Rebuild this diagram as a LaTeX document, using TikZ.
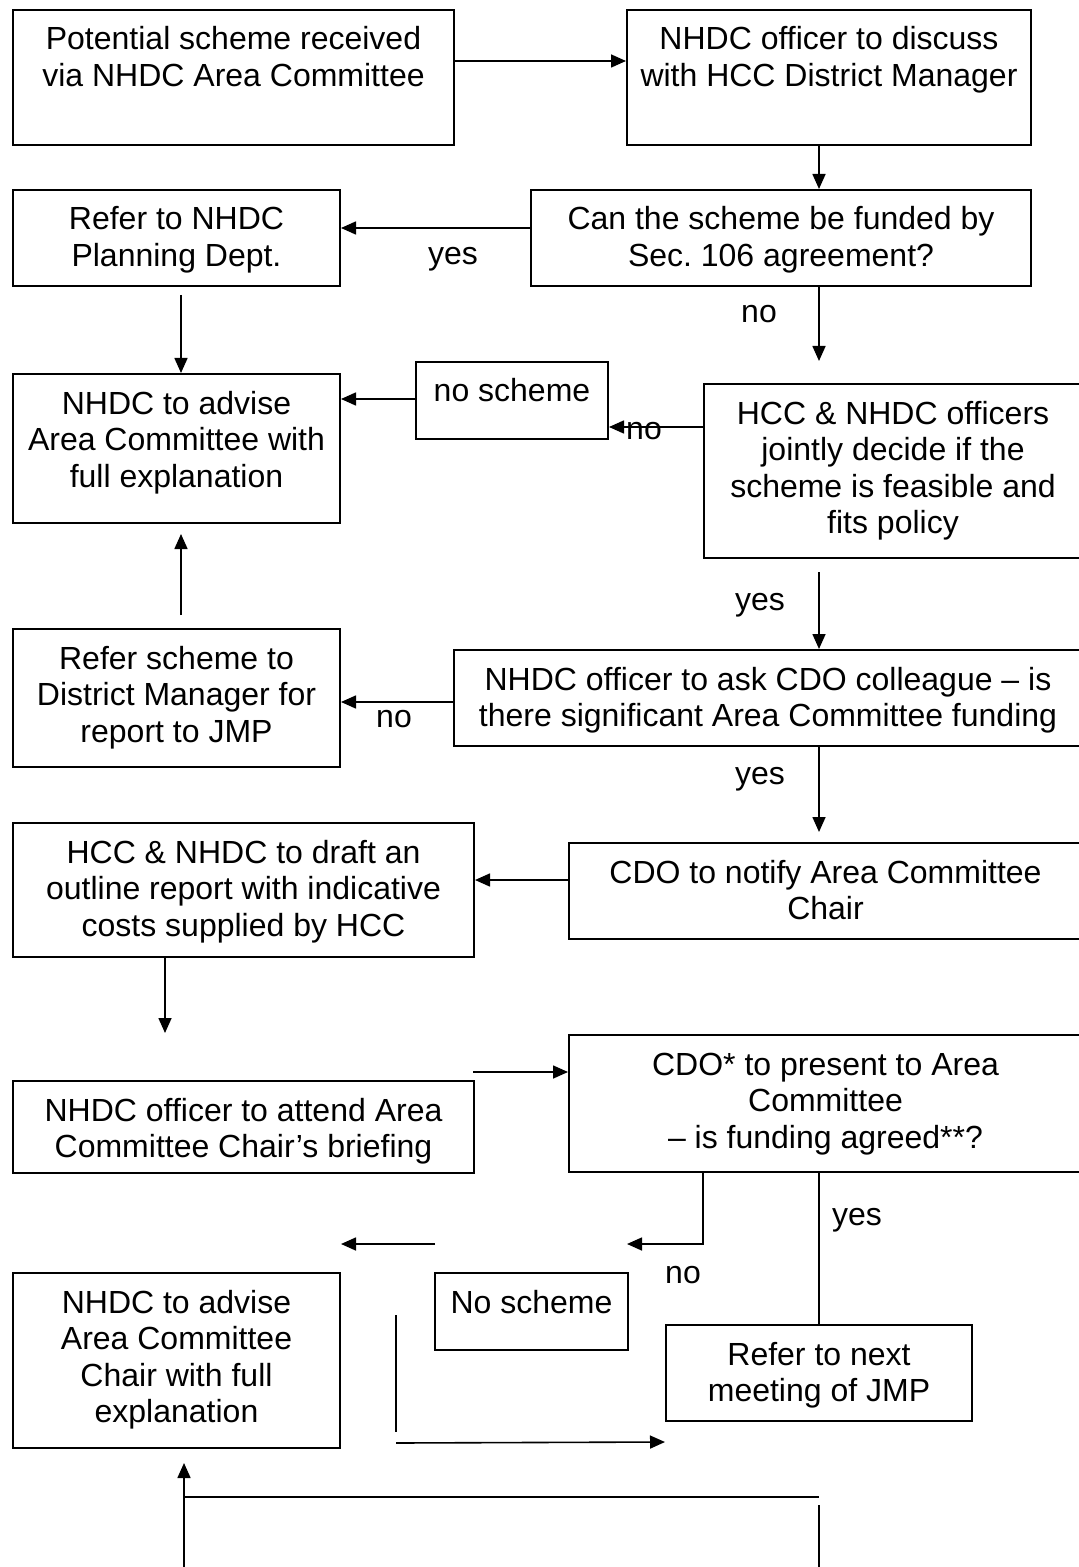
\documentclass[tikz,border=0pt]{standalone}
\usepackage{fontspec}
\setmainfont{Liberation Sans}
\usetikzlibrary{arrows.meta}
\frenchspacing

\newcommand{\stepbody}[3]{\parbox[c][#2][t]{#1}{\centering\rule{0pt}{20pt}#3}}

\begin{document}
\begin{tikzpicture}[x=0.5pt,y=0.5pt,yscale=-1,xscale=1,
  font=\fontsize{16pt}{18.3pt}\selectfont,
  stepbox/.style={draw, line width=1pt, inner sep=0pt, anchor=north west},
  flowline/.style={line width=0.8pt},
  flowarrow/.style={flowline, -{Triangle[length=7.5pt,width=6.5pt]}},
  answer/.style={anchor=base, inner sep=0pt}]
%set diagram left start at 0, and has height of 1567
\useasboundingbox (0,0) rectangle (1079,1567);

%Shape: Rectangle
\draw (12,9) node [stepbox] (recv) {\stepbody{220.5pt}{67.5pt}{Potential scheme received\\via NHDC Area Committee}};
%Shape: Rectangle
\draw (626,9) node [stepbox] (disc) {\stepbody{202pt}{67.5pt}{NHDC officer to discuss\\with HCC District Manager}};
%Shape: Rectangle
\draw (530,189) node [stepbox] (sec) {\stepbody{250pt}{48pt}{Can the scheme be funded by\\Sec. 106 agreement?}};
%Shape: Rectangle
\draw (12,189) node [stepbox] (plan) {\stepbody{163.5pt}{48pt}{Refer to NHDC\\Planning Dept.}};
%Shape: Rectangle
\draw (12,373) node [stepbox] (advise) {\stepbody{163.5pt}{74.5pt}{NHDC to advise\\Area Committee with\\full explanation}};
%Shape: Rectangle
\draw (415,361) node [stepbox] (nosch) {\stepbody{96pt}{38.5pt}{no scheme}};
%Shape: Rectangle
\draw (703,383) node [stepbox] (feas) {\stepbody{189pt}{87pt}{HCC \& NHDC officers\\jointly decide if the\\scheme is feasible and\\fits policy}};
%Shape: Rectangle
\draw (453,649) node [stepbox] (ask) {\stepbody{314pt}{48pt}{NHDC officer to ask CDO colleague – is\\there significant Area Committee funding}};
%Shape: Rectangle
\draw (12,628) node [stepbox] (dm) {\stepbody{163.5pt}{69pt}{Refer scheme to\\District Manager for\\report to JMP}};
%Shape: Rectangle
\draw (568,842) node [stepbox] (notify) {\stepbody{256.5pt}{48pt}{CDO to notify Area Committee\\Chair}};
%Shape: Rectangle
\draw (12,822) node [stepbox] (draft) {\stepbody{230.5pt}{67pt}{HCC \& NHDC to draft an\\outline report with indicative\\costs supplied by HCC}};
%Shape: Rectangle
\draw (12,1080) node [stepbox] (brief) {\stepbody{230.5pt}{46pt}{NHDC officer to attend Area\\Committee Chair’s briefing}};
%Shape: Rectangle
\draw (568,1034) node [stepbox] (present) {\stepbody{256.5pt}{68.5pt}{CDO* to present to Area\\Committee\\– is funding agreed**?}};
%Shape: Rectangle
\draw (12,1272) node [stepbox] (chair) {\stepbody{163.5pt}{87.5pt}{NHDC to advise\\Area Committee\\Chair with full\\explanation}};
%Shape: Rectangle
\draw (434,1272) node [stepbox] (nosch2) {\stepbody{96.5pt}{38.5pt}{No scheme}};
%Shape: Rectangle
\draw (665,1324) node [stepbox] (jmp) {\stepbody{153pt}{48pt}{Refer to next\\meeting of JMP}};

% free ends of the connectors
\coordinate (rcol) at (819,0);
\coordinate (a4) at (181,295);
\coordinate (a5) at (819,361);
\coordinate (a8) at (181,615);
\coordinate (a8t) at (181,534);
\coordinate (a9) at (819,572);
\coordinate (a11) at (819,832);
\coordinate (a13) at (165,1033);
\coordinate (a14) at (473,1072);
\coordinate (a15) at (627,1244);
\coordinate (a16) at (435,1244);
\coordinate (a16t) at (341,1244);
\coordinate (l18) at (396,1315);
\coordinate (l18b) at (396,1432);
\coordinate (a19) at (396,1443);
\coordinate (a20) at (184,1567);
\coordinate (a20t) at (184,1463);
\coordinate (l21) at (184,1497);
\coordinate (l21b) at (819,1497);
\coordinate (l22) at (819,1505);
\coordinate (l22b) at (819,1567);

%Straight Lines
\draw [flowarrow] (recv.east |- 0,61) -- (disc.west |- 0,61);
\draw [flowarrow] (disc.south -| rcol) -- (sec.north -| rcol);
\draw [flowarrow] (sec.west |- 0,228) -- (plan.east |- 0,228);
\draw [flowarrow] (a4) -- (advise.north -| a4);
\draw [flowarrow] (sec.south -| a5) -- (a5);
\draw [flowarrow] (feas.west |- 0,427) -- (nosch.east |- 0,427);
\draw [flowarrow] (nosch.west |- 0,399) -- (advise.east |- 0,399);
\draw [flowarrow] (a8) -- (a8t);
\draw [flowarrow] (a9) -- (ask.north -| a9);
\draw [flowarrow] (ask.west |- 0,702) -- (dm.east |- 0,702);
\draw [flowarrow] (ask.south -| a11) -- (a11);
\draw [flowarrow] (notify.west |- 0,880) -- (draft.east |- 0,880);
\draw [flowarrow] (draft.south -| a13) -- (a13);
\draw [flowarrow] (a14) -- (present.west |- a14);
\draw [flowarrow] (present.south -| 703,0) |- (a15);
\draw [flowarrow] (a16) -- (a16t);
\draw [flowline] (present.south -| rcol) -- (jmp.north -| rcol);
\draw [flowline] (l18) -- (l18b);
\draw [flowarrow] (a19) -- (jmp.west |- 0,1442);
\draw [flowarrow] (a20) -- (a20t);
\draw [flowline] (l21) -- (l21b);
\draw [flowline] (l22) -- (l22b);

% Text Node
\draw (453,265) node [answer] (yes1) {yes};
% Text Node
\draw (759,323) node [answer] (no1) {no};
% Text Node
\draw (644,439) node [answer] (no2) {no};
% Text Node
\draw (760,610) node [answer] (yes2) {yes};
% Text Node
\draw (394,727) node [answer] (no3) {no};
% Text Node
\draw (760,784) node [answer] (yes3) {yes};
% Text Node
\draw (857,1225) node [answer] (yes4) {yes};
% Text Node
\draw (683,1283) node [answer] (no4) {no};

\end{tikzpicture}
\end{document}
